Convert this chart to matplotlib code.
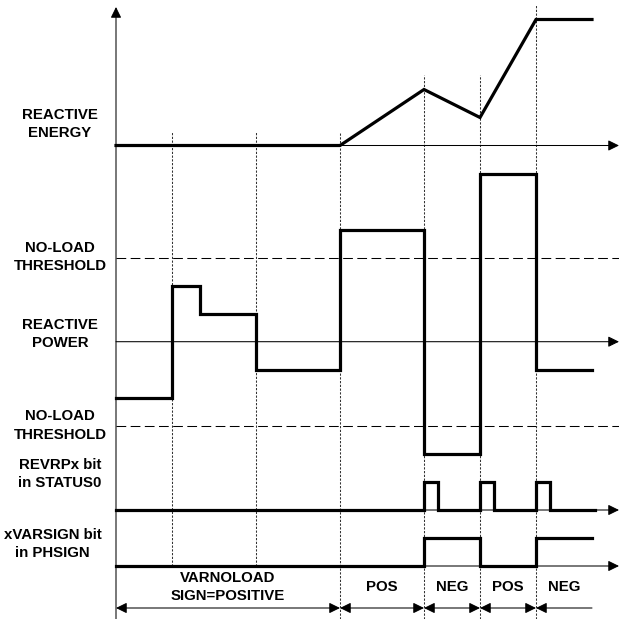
import matplotlib
matplotlib.use('Agg')
import matplotlib.pyplot as plt

plt.rcParams['font.family'] = ['Liberation Sans', 'DejaVu Sans']
plt.rcParams['lines.scale_dashes'] = False

# time marks, one unit = one grid step
energy_t = [0, 4, 5.5, 6.5, 7.5, 8.5]
energy_val = [0, 0, 1.0, 0.5, 2.25, 2.25]
power_t = [0, 1, 1.5, 2.5, 4, 5.5, 6.5, 7.5, 8.5]
power_val = [-1, 1, 0.5, -0.5, 2, -2, 3, -0.5]
threshold = 1.5
revrp_pulses = [5.5, 6.5, 7.5]
pulse_width = 0.25
sign_t = [0, 5.5, 6.5, 7.5, 8.5]
sign_val = [0, 1, 0, 1]
bit_high = 0.5
guide_t = [1, 2.5, 4, 5.5, 6.5, 7.5]
region_edges = [0, 4, 5.5, 6.5, 7.5, 8.5]
region_labels = ['VARNOLOAD\nSIGN=POSITIVE', 'POS', 'NEG', 'POS', 'NEG']
row_labels = ['REACTIVE\nENERGY', 'NO-LOAD\nTHRESHOLD', 'REACTIVE\nPOWER',
              'NO-LOAD\nTHRESHOLD', 'REVRPx bit\nin STATUS0', 'xVARSIGN bit\nin PHSIGN']

# layout (baselines in grid units from the bottom)
U = 56.0
x0 = 116.0
energy_base = (619 - 145.5) / U
power_base = (619 - 341.7) / U
revrp_base = (619 - 510) / U
sign_base = (619 - 566) / U
span_y = (619 - 608) / U
x_end = (619 - x0) / U
top = (619 - 7) / U

thick = 2.3
thin = 0.75

fig = plt.figure(figsize=(6.19, 6.19), dpi=100)
ax = fig.add_axes([0, 0, 1, 1])
ax.set_xlim(-x0 / U, x_end)
ax.set_ylim(0, 619 / U)
ax.axis('off')

arrow = dict(arrowstyle='-|>,head_length=0.65,head_width=0.32', color='k',
             lw=thin, mutation_scale=10, shrinkA=0, shrinkB=0)

# vertical axis
ax.annotate('', xy=(0, top), xytext=(0, 0), arrowprops=arrow)
# horizontal axes
for b in [energy_base, power_base, revrp_base, sign_base]:
    ax.annotate('', xy=(x_end, b), xytext=(0, b), arrowprops=arrow)

# thresholds
for s in [1, -1]:
    ax.plot([0, x_end], [power_base + s * threshold] * 2, color='k', lw=thin,
            dashes=(7, 3.2))

# guide lines
guide_top = [energy_base + 0.25, energy_base + 0.25, energy_base + 0.25,
             (619 - 75) / U, (619 - 75) / U, (619 - 5) / U]
guide_bot = [sign_base, sign_base, 0, 0, 0, 0]
for t, yt, yb in zip(guide_t, guide_top, guide_bot):
    ax.plot([t, t], [yb, yt], color='#333333', lw=0.75, dashes=(1.6, 1.1))

# reactive energy
ax.plot(energy_t, [energy_base + v for v in energy_val], color='k', lw=thick,
        solid_joinstyle='miter')

# reactive power
ax.step(power_t, [power_base + v for v in power_val + power_val[-1:]],
        where='post', color='k', lw=thick, solid_joinstyle='miter')

# REVRPx bit
xs, ys = [0], [0]
for p in revrp_pulses:
    xs += [p, p, p + pulse_width, p + pulse_width]
    ys += [0, bit_high, bit_high, 0]
xs.append(8.55)
ys.append(0)
ax.plot(xs, [revrp_base + v for v in ys], color='k', lw=thick,
        solid_joinstyle='miter')

# xVARSIGN bit
ax.step(sign_t, [sign_base + bit_high * v for v in sign_val + sign_val[-1:]],
        where='post', color='k', lw=thick, solid_joinstyle='miter')

# region spans
both = dict(arrow, arrowstyle='<|-|>,head_length=0.65,head_width=0.32')
left = dict(arrow, arrowstyle='<|-,head_length=0.65,head_width=0.32')
for i, lab in enumerate(region_labels):
    a, b = region_edges[i], region_edges[i + 1]
    ax.annotate('', xy=(b, span_y), xytext=(a, span_y),
                arrowprops=both if i < len(region_labels) - 1 else left)
    ax.text((a + b) / 2, (619 - 587) / U, lab, ha='center', va='center',
            fontsize=10.8, fontweight='bold', linespacing=1.38)

# row labels
label_y = [124.2, 257.2, 334, 425.5, 474.2, 544.2]
label_x = [60, 60, 60, 60, 60, 52.5]
for lab, lx, ly in zip(row_labels, label_x, label_y):
    ax.text((lx - x0) / U, (619 - ly) / U, lab, ha='center', va='center',
            fontsize=10.8, fontweight='bold', linespacing=1.38)

fig.savefig('out.png', dpi=100)
